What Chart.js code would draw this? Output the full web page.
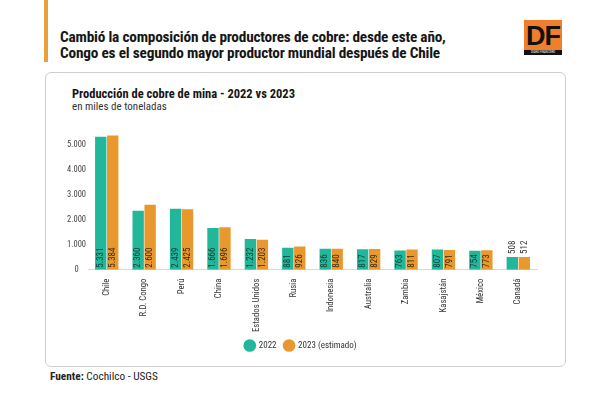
<!DOCTYPE html>
<html>
<head>
<meta charset="utf-8">
<script src="https://cdn.jsdelivr.net/npm/chart.js@4.4.0/dist/chart.umd.min.js"></script>
<style>
  body { margin: 0; width: 600px; height: 394px; background: #fff; position: relative; overflow: hidden;
         font-family: 'Roboto Condensed', 'Liberation Sans Narrow', 'DejaVu Sans Condensed', Roboto, sans-serif; }
  .accent { position: absolute; left: 44px; top: 0; width: 4px; height: 62px; background: #e8a13a; }
  .headline { position: absolute; left: 60px; top: 29px; font-size: 15.3px; font-weight: bold; line-height: 16px; color: #161616; letter-spacing: -0.2px; }
  .logo { position: absolute; left: 524px; top: 20px; width: 38px; height: 35px; }
  .logo .box { background: #f07f2c; height: 30px; font: bold 27px 'Liberation Sans', Arial, sans-serif; color: #111; line-height: 32px; text-align: center; letter-spacing: -1px; }
  .logo .strip { background: #111; color: #fff; font-size: 3px; height: 5px; line-height: 5px; text-align: center; }
  .card { position: absolute; left: 45px; top: 72px; width: 519px; height: 293px; border: 1px solid #cfcfcf; border-radius: 6px; }
  .ctitle { position: absolute; left: 72px; top: 86px; font-size: 12.5px; font-weight: bold; color: #151515; }
  .csub { position: absolute; left: 72px; top: 100px; font-size: 11px; color: #333; }
  .wrap { position: absolute; left: 46px; top: 118px; width: 518px; height: 246px; }
  .source { position: absolute; left: 50px; top: 370px; font-size: 11.3px; color: #222; }
</style>
</head>
<body>
<div class="accent"></div>
<div class="headline">Cambió la composición de productores de cobre: desde este año,<br>Congo es el segundo mayor productor mundial después de Chile</div>
<div class="logo"><div class="box">DF</div><div class="strip">DIARIO FINANCIERO</div></div>
<div class="card"></div>
<div class="ctitle">Producción de cobre de mina - 2022 vs 2023</div>
<div class="csub">en miles de toneladas</div>
<div class="wrap"><canvas id="chart"></canvas></div>
<div class="source"><b>Fuente:</b> Cochilco - USGS</div>

<script>
const countries = ['Chile', 'R.D. Congo', 'Perú', 'China', 'Estados Unidos', 'Rusia', 'Indonesia', 'Australia', 'Zambia', 'Kasajstán', 'México', 'Canadá'];
const prod2022 = [5331, 2360, 2439, 1666, 1232, 881, 836, 817, 763, 807, 754, 508];
const prod2023 = [5384, 2600, 2425, 1696, 1203, 926, 840, 829, 811, 791, 773, 512];
const yTicks = [0, 1000, 2000, 3000, 4000, 5000];

const FONT = "'Roboto Condensed', 'Liberation Sans Narrow', 'DejaVu Sans Condensed', Roboto, sans-serif";

// miles con punto, estilo chileno
const fmt = v => String(v).replace(/\B(?=(\d{3})+(?!\d))/g, '.');

// etiquetas verticales dentro (o encima) de cada barra
const barLabels = {
  id: 'barLabels',
  afterDatasetsDraw(chart) {
    const ctx = chart.ctx;
    ctx.save();
    ctx.font = '9px ' + FONT;
    chart.data.datasets.forEach((ds, i) => {
      chart.getDatasetMeta(i).data.forEach((bar, j) => {
        const txt = fmt(ds.data[j]);
        const w = ctx.measureText(txt).width;
        const h = bar.base - bar.y;
        ctx.save();
        if (h > w + 3) {
          ctx.translate(bar.x, bar.base - 2);
          ctx.fillStyle = i === 0 ? '#0e3d33' : '#3a2608';
        } else {
          ctx.translate(bar.x, bar.y - 3);
          ctx.fillStyle = '#333';
        }
        ctx.rotate(-Math.PI / 2);
        ctx.textAlign = 'left';
        ctx.textBaseline = 'middle';
        ctx.fillText(txt, 0, 0);
        ctx.restore();
      });
    });
    ctx.restore();
  }
};

new Chart(document.getElementById('chart'), {
  type: 'bar',
  data: {
    labels: countries,
    datasets: [
      { label: '2022', data: prod2022, backgroundColor: '#22b79a' },
      { label: '2023 (estimado)', data: prod2023, backgroundColor: '#e8982c' }
    ]
  },
  options: {
    responsive: true,
    maintainAspectRatio: false,
    animation: false,
    categoryPercentage: 0.64,
    barPercentage: 0.95,
    layout: { padding: { left: 19, right: 27, top: 12, bottom: 4 } },
    plugins: {
      legend: {
        position: 'bottom',
        labels: {
          usePointStyle: true,
          pointStyle: 'circle',
          boxWidth: 9,
          boxHeight: 9,
          padding: 8,
          color: '#333',
          font: { family: FONT, size: 9 }
        }
      },
      tooltip: { enabled: false }
    },
    scales: {
      x: {
        grid: { display: false },
        border: { display: true, color: '#d8d8d8' },
        ticks: {
          minRotation: 90,
          maxRotation: 90,
          autoSkip: false,
          padding: 1,
          color: '#333',
          font: { family: FONT, size: 8.7 }
        }
      },
      y: {
        min: 0,
        max: 5600,
        grid: { display: false, drawTicks: false },
        border: { display: false },
        afterBuildTicks: axis => { axis.ticks = yTicks.map(v => ({ value: v })); },
        ticks: {
          crossAlign: 'center',
          padding: 2,
          color: '#444',
          font: { family: FONT, size: 8.5 },
          callback: v => fmt(v)
        }
      }
    }
  },
  plugins: [barLabels]
});
</script>
</body>
</html>
